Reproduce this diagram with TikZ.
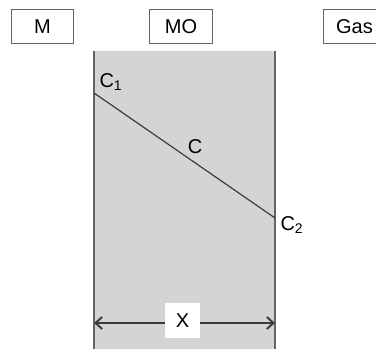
\documentclass[tikz,border=0pt]{standalone}
\usepackage{fontspec}
\setmainfont{Liberation Sans}
\usetikzlibrary{arrows.meta}
\definecolor{layergray}{RGB}{212,212,214}
\definecolor{edgegray}{RGB}{100,100,100}
\definecolor{linegray}{RGB}{60,60,60}
\tikzset{phase/.style={draw=edgegray, line width=0.8pt, fill=white, minimum width=47pt, minimum height=26pt, inner sep=0pt}}

\begin{document}
\begin{tikzpicture}[x=0.75pt, y=-0.75pt, every node/.style={font=\fontsize{15}{18}\selectfont}]
\useasboundingbox (0,0) rectangle (376,349);
\clip (0,0) rectangle (376,349);

% oxide layer
\fill[layergray] (94,51) rectangle (275,349);
\draw[edgegray, line width=1.4pt] (94,51) -- (94,349) (275,51) -- (275,349);

\node[phase] (metal) at (42.5,26.5) {M};
\node[phase] (oxide) at (181,26.5) {MO};
\node[phase] (gas) at (354.5,26.5) {Gas};

% concentration profile
\coordinate (c1) at (94,93);
\coordinate (c2) at (275,218);
\draw[linegray, line width=0.9pt] (c1) -- (c2);
\node (c1lab) at (111,82) {C\textsubscript{1}};
\node (clab) at (195,147) {C};
\node (c2lab) at (292,225) {C\textsubscript{2}};

% thickness
\coordinate (xl) at (94,323);
\coordinate (xr) at (275,323);
\draw[linegray, line width=1.5pt, {Straight Barb[length=5pt,width=9pt]}-{Straight Barb[length=5pt,width=9pt]}] (xl) -- (xr);
\node[fill=white, minimum width=26pt, minimum height=26pt, inner sep=0pt] (xlab) at (182.5,320.5) {X};
\end{tikzpicture}
\end{document}
